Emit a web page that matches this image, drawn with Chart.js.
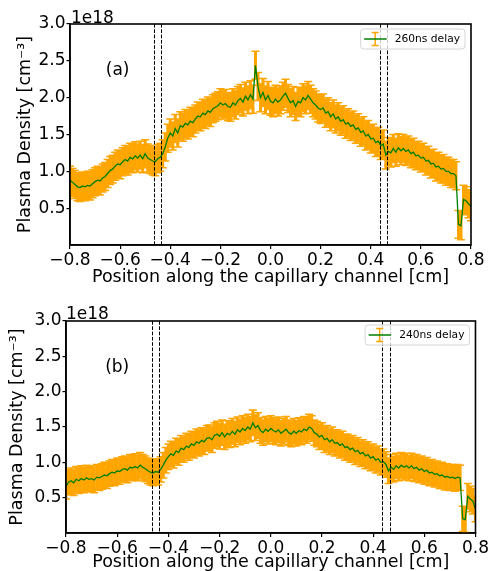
<!DOCTYPE html>
<html>
<head>
<meta charset="utf-8">
<script src="https://cdn.jsdelivr.net/npm/chart.js@4.4.0/dist/chart.umd.min.js"></script>
<style>
html, body { margin: 0; padding: 0; background: #fff; }
#wrap { position: relative; width: 490px; height: 571px; overflow: hidden; }
canvas { position: absolute; left: 0; }
#chart-a { top: 0; }
#chart-b { top: 290px; }
</style>
</head>
<body>
<div id="wrap">
  <canvas id="chart-a" width="490" height="290"></canvas>
  <canvas id="chart-b" width="490" height="281"></canvas>
</div>
<script>
// position along the channel [cm]
var positions = [
  -0.80, -0.79, -0.78, -0.77, -0.76, -0.75, -0.74, -0.73, -0.72, -0.71,
  -0.70, -0.69, -0.68, -0.67, -0.66, -0.65, -0.64, -0.63, -0.62, -0.61,
  -0.60, -0.59, -0.58, -0.57, -0.56, -0.55, -0.54, -0.53, -0.52, -0.51,
  -0.50, -0.49, -0.48, -0.47, -0.46, -0.45, -0.44, -0.43, -0.42, -0.41,
  -0.40, -0.39, -0.38, -0.37, -0.36, -0.35, -0.34, -0.33, -0.32, -0.31,
  -0.30, -0.29, -0.28, -0.27, -0.26, -0.25, -0.24, -0.23, -0.22, -0.21,
  -0.20, -0.19, -0.18, -0.17, -0.16, -0.15, -0.14, -0.13, -0.12, -0.11,
  -0.10, -0.09, -0.08, -0.07, -0.06, -0.05, -0.04, -0.03, -0.02, -0.01,
  0.00, 0.01, 0.02, 0.03, 0.04, 0.05, 0.06, 0.07, 0.08, 0.09,
  0.10, 0.11, 0.12, 0.13, 0.14, 0.15, 0.16, 0.17, 0.18, 0.19,
  0.20, 0.21, 0.22, 0.23, 0.24, 0.25, 0.26, 0.27, 0.28, 0.29,
  0.30, 0.31, 0.32, 0.33, 0.34, 0.35, 0.36, 0.37, 0.38, 0.39,
  0.40, 0.41, 0.42, 0.43, 0.44, 0.45, 0.46, 0.47, 0.48, 0.49,
  0.50, 0.51, 0.52, 0.53, 0.54, 0.55, 0.56, 0.57, 0.58, 0.59,
  0.60, 0.61, 0.62, 0.63, 0.64, 0.65, 0.66, 0.67, 0.68, 0.69,
  0.70, 0.71, 0.72, 0.73, 0.74, 0.75, 0.76, 0.77, 0.78, 0.79,
  0.80
];

// plasma density, units of 1e18 cm^-3
var density260 = [
  0.88, 0.85, 0.82, 0.79, 0.78, 0.80, 0.79, 0.81, 0.80, 0.83,
  0.86, 0.88, 0.87, 0.91, 0.93, 0.97, 1.01, 1.03, 1.07, 1.10,
  1.09, 1.13, 1.16, 1.14, 1.19, 1.17, 1.21, 1.18, 1.22, 1.17,
  1.24, 1.18, 1.16, 1.14, 1.13, 1.17, 1.19, 1.24, 1.33, 1.45,
  1.52, 1.48, 1.58, 1.52, 1.62, 1.60, 1.65, 1.63, 1.68, 1.66,
  1.71, 1.75, 1.74, 1.79, 1.77, 1.82, 1.80, 1.85, 1.87, 1.89,
  1.93, 1.90, 1.92, 1.88, 1.87, 1.93, 1.90, 1.96, 1.99, 1.94,
  2.02, 1.97, 2.04, 1.98, 2.44, 2.15, 2.00, 2.07, 1.97, 2.03,
  1.95, 1.93, 1.98, 1.94, 1.97, 2.02, 2.06, 1.99, 1.93, 1.96,
  1.88, 1.95, 1.93, 2.00, 1.97, 2.03, 1.98, 1.93, 1.90, 1.86,
  1.84, 1.86, 1.79, 1.81, 1.74, 1.78, 1.71, 1.74, 1.68, 1.70,
  1.64, 1.66, 1.61, 1.63, 1.57, 1.59, 1.53, 1.55, 1.48, 1.50,
  1.44, 1.45, 1.39, 1.41, 1.35, 1.37, 1.22, 1.27, 1.25, 1.31,
  1.26, 1.32, 1.28, 1.31, 1.27, 1.29, 1.24, 1.26, 1.21, 1.22,
  1.18, 1.19, 1.14, 1.15, 1.10, 1.11, 1.06, 1.07, 1.03, 1.04,
  1.00, 1.00, 0.97, 0.97, 0.94, 0.28, 0.26, 0.62, 0.60, 0.56,
  0.52
];

var density240 = [
  0.66, 0.72, 0.74, 0.71, 0.76, 0.74, 0.77, 0.75, 0.78, 0.76,
  0.77, 0.75, 0.79, 0.78, 0.80, 0.82, 0.81, 0.84, 0.86, 0.85,
  0.88, 0.87, 0.90, 0.91, 0.89, 0.93, 0.92, 0.94, 0.92, 0.96,
  0.93, 0.91, 0.88, 0.86, 0.85, 0.87, 0.86, 0.90, 0.96, 1.03,
  1.08, 1.12, 1.10, 1.16, 1.14, 1.20, 1.18, 1.23, 1.21, 1.26,
  1.24, 1.29, 1.27, 1.31, 1.29, 1.34, 1.35, 1.32, 1.38, 1.40,
  1.37, 1.42, 1.36, 1.41, 1.39, 1.44, 1.40, 1.46, 1.43, 1.48,
  1.45, 1.50, 1.47, 1.56, 1.49, 1.52, 1.45, 1.42, 1.47, 1.44,
  1.48, 1.45, 1.43, 1.46, 1.41, 1.44, 1.47, 1.42, 1.40, 1.44,
  1.41, 1.45, 1.43, 1.47, 1.45, 1.50, 1.48, 1.42, 1.40, 1.36,
  1.38, 1.32, 1.34, 1.29, 1.32, 1.27, 1.28, 1.24, 1.26, 1.21,
  1.22, 1.18, 1.20, 1.15, 1.17, 1.12, 1.14, 1.09, 1.11, 1.06,
  1.08, 1.03, 1.05, 1.00, 1.01, 0.97, 0.88, 0.93, 0.90, 0.95,
  0.92, 0.96, 0.93, 0.95, 0.92, 0.95, 0.91, 0.93, 0.89, 0.91,
  0.87, 0.89, 0.85, 0.86, 0.83, 0.84, 0.81, 0.82, 0.79, 0.80,
  0.78, 0.79, 0.77, 0.79, 0.78, 0.20, 0.19, 0.52, 0.48, 0.45,
  0.34
];

// error bar half-height (1e18 cm^-3)
var err260 = 0.19;
var err240 = 0.18;

var xTicks = [-0.8, -0.6, -0.4, -0.2, 0.0, 0.2, 0.4, 0.6, 0.8];
var yTicks = [0.5, 1.0, 1.5, 2.0, 2.5, 3.0];
var markers = [-0.465, -0.435, 0.435, 0.465];   // dashed lines

var FONT = "'DejaVu Sans', sans-serif";

function tickTxt(v, d) {
  if (Math.abs(v) < 1e-9) v = 0;
  return v.toFixed(d).replace("-", "\u2212");
}

// error bars under the line
var errorBars = {
  id: "errorBars",
  beforeDatasetsDraw: function (chart, args, o) {
    var ctx = chart.ctx, xs = chart.scales.x, ys = chart.scales.y, a = chart.chartArea;
    ctx.save();
    ctx.beginPath(); ctx.rect(a.left, a.top, a.right - a.left, a.bottom - a.top); ctx.clip();
    ctx.strokeStyle = "#ffa500";
    o.values.forEach(function (v, i) {
      var px = xs.getPixelForValue(positions[i]);
      var t = ys.getPixelForValue(v + o.err), b = ys.getPixelForValue(v - o.err);
      ctx.lineWidth = 3;
      ctx.beginPath(); ctx.moveTo(px, t); ctx.lineTo(px, b); ctx.stroke();
      ctx.lineWidth = 1.5;
      ctx.beginPath();
      ctx.moveTo(px - 4, t); ctx.lineTo(px + 4, t);
      ctx.moveTo(px - 4, b); ctx.lineTo(px + 4, b);
      ctx.stroke();
    });
    ctx.restore();
  }
};

// dashed markers, frame, offset text, panel label, legend
var decor = {
  id: "decor",
  afterDatasetsDraw: function (chart, args, o) {
    var ctx = chart.ctx, xs = chart.scales.x, ys = chart.scales.y, a = chart.chartArea;
    ctx.save();
    ctx.strokeStyle = "#000"; ctx.lineWidth = 1; ctx.setLineDash([3.7, 1.6]);
    markers.forEach(function (m) {
      var px = Math.round(xs.getPixelForValue(m)) + 0.5;
      ctx.beginPath(); ctx.moveTo(px, a.top); ctx.lineTo(px, a.bottom); ctx.stroke();
    });
    ctx.setLineDash([]);
    ctx.lineWidth = 1.6;
    ctx.strokeRect(a.left, a.top, a.right - a.left, a.bottom - a.top);

    ctx.fillStyle = "#000";
    ctx.font = "17px " + FONT;
    ctx.textAlign = "left"; ctx.textBaseline = "alphabetic";
    ctx.fillText("1e18", a.left + o.offX, a.top - o.offY);

    ctx.font = "17px " + FONT;
    ctx.textAlign = "center"; ctx.textBaseline = "middle";
    ctx.fillText(o.panel, xs.getPixelForValue(o.panelAt[0]), ys.getPixelForValue(o.panelAt[1]));

    // legend box
    ctx.font = "10.7px " + FONT;
    var tw = ctx.measureText(o.label).width;
    var w = 34 + tw + 5, h = 20;
    var bx = a.right - o.legRight - w, by = a.top + o.legTop;
    ctx.beginPath();
    ctx.roundRect(bx, by, w, h, 3);
    ctx.fillStyle = "rgba(255,255,255,0.8)"; ctx.fill();
    ctx.strokeStyle = "#d5d5d5"; ctx.lineWidth = 1; ctx.stroke();
    var cy = by + h / 2, cx = bx + 14.5;
    ctx.strokeStyle = "#ffa500"; ctx.lineWidth = 1.5;
    ctx.beginPath();
    ctx.moveTo(cx, cy - 6.5); ctx.lineTo(cx, cy + 6.5);
    ctx.moveTo(cx - 3.5, cy - 6.5); ctx.lineTo(cx + 3.5, cy - 6.5);
    ctx.moveTo(cx - 3.5, cy + 6.5); ctx.lineTo(cx + 3.5, cy + 6.5);
    ctx.stroke();
    ctx.strokeStyle = "#008000"; ctx.lineWidth = 1.5;
    ctx.beginPath(); ctx.moveTo(bx + 3.5, cy); ctx.lineTo(bx + 26, cy); ctx.stroke();
    ctx.fillStyle = "#000"; ctx.textAlign = "left";
    ctx.fillText(o.label, bx + 34, cy + 0.5);
    ctx.restore();
  }
};

function makeChart(id, values, err, label, panel, L) {
  return new Chart(document.getElementById(id), {
    type: "line",
    data: {
      datasets: [{
        label: label,
        data: values.map(function (v, i) { return { x: positions[i], y: v }; }),
        borderColor: "#008000",
        borderWidth: 1.3,
        pointRadius: 0,
        tension: 0
      }]
    },
    options: {
      responsive: false,
      animation: false,
      events: [],
      layout: { padding: { top: L.top, right: L.right, left: 0, bottom: 0 } },
      plugins: {
        legend: { display: false },
        tooltip: { enabled: false },
        errorBars: { values: values, err: err },
        decor: { label: label, panel: panel, panelAt: L.panelAt, legRight: L.legRight, legTop: L.legTop, offX: L.offX, offY: L.offY }
      },
      scales: {
        x: {
          type: "linear", min: -0.8, max: 0.8,
          afterBuildTicks: function (s) { s.ticks = xTicks.map(function (v) { return { value: v }; }); },
          afterFit: function (s) { s.height = L.xh; },
          ticks: {
            autoSkip: false, maxRotation: 0, padding: 1, color: "#000",
            font: { family: FONT, size: 17 },
            callback: function (v) { return tickTxt(v, 1); }
          },
          grid: { drawOnChartArea: false, drawTicks: true, tickLength: 4, color: "#000", lineWidth: 1.2 },
          border: { display: true, color: "#000", width: 1.6 },
          title: {
            display: true, text: "Position along the capillary channel [cm]", color: "#000",
            font: { family: FONT, size: 17.5 }, padding: { top: 0, bottom: L.xtp }
          }
        },
        y: {
          type: "linear", min: 0, max: 3,
          afterBuildTicks: function (s) { s.ticks = yTicks.map(function (v) { return { value: v }; }); },
          afterFit: function (s) { s.width = L.yw; },
          ticks: {
            padding: 1, color: "#000",
            font: { family: FONT, size: 17 },
            callback: function (v) { return tickTxt(v, 1); }
          },
          grid: { drawOnChartArea: false, drawTicks: true, tickLength: 3.5, color: "#000", lineWidth: 1.2 },
          border: { display: true, color: "#000", width: 1.6 },
          title: {
            display: true, text: "Plasma Density [cm\u207B\u00B3]", color: "#000",
            font: { family: FONT, size: 17.5 }, padding: { top: L.ytp, bottom: 0 }
          }
        }
      }
    },
    plugins: [errorBars, decor]
  });
}

makeChart("chart-a", density260, err260, "260ns delay", "(a)",
  { top: 24, right: 19, yw: 70, xh: 45, xtp: 2.5, ytp: 14.5, panelAt: [-0.61, 2.37], legRight: 6, legTop: 5, offX: 1, offY: 1 });

makeChart("chart-b", density240, err240, "240ns delay", "(b)",
  { top: 31, right: 13, yw: 66, xh: 38, xtp: -1.5, ytp: 7, panelAt: [-0.60, 2.34], legRight: 6, legTop: 4, offX: 0, offY: 2 });
</script>
</body>
</html>
